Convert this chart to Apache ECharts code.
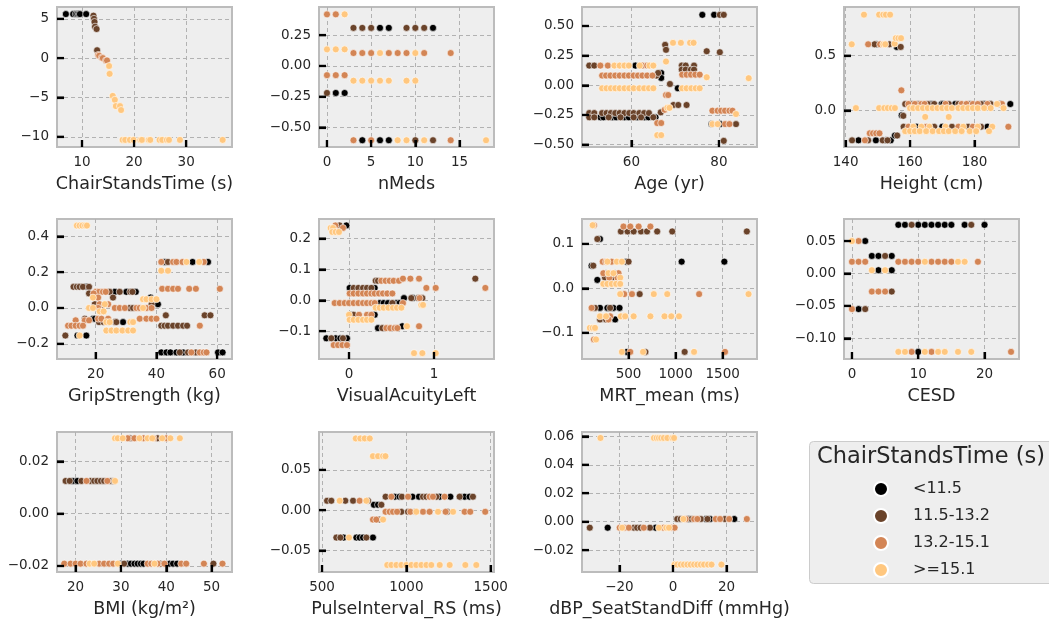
<!DOCTYPE html>
<html>
<head>
<meta charset="utf-8">
<script src="https://cdn.jsdelivr.net/npm/echarts@6/dist/echarts.min.js"></script>
<style>
  html, body { margin: 0; padding: 0; background: #fff; }
  #main { width: 1049px; height: 623px; }
</style>
</head>
<body>
<div id="main"></div>
<script>
// groups of ChairStandsTime, order: black, dark brown, copper, light
const groups = ['<11.5', '11.5-13.2', '13.2-15.1', '>=15.1'];
const colors = ['#000000', '#6a432a', '#d38555', '#ffc77f'];

const chairStands = [
  [[6.9,5.6],[8.3,5.6],[8.8,5.6],[9.1,5.6],[9.4,5.6],[9.6,5.6],[10.8,5.6]],
  [[12.2,5.4],[12.3,5.0],[12.4,4.6],[12.5,4.0],[12.8,3.7],[12.9,1.0]],
  [[13.1,0.4],[13.3,0.3],[13.8,0.05],[14.0,0.0],[14.6,-0.3],[14.8,-0.3]],
  [[15.2,-1.0],[15.3,-2.0],[15.9,-4.8],[16.3,-5.3],[16.5,-6.1],[17.3,-6.1],[17.5,-6.6],[17.8,-10.4],[18.3,-10.4],[19.2,-10.4],[19.9,-10.4],[21.2,-10.4],[21.5,-10.4],[22.8,-10.4],[23.1,-10.4],[24.9,-10.4],[25.4,-10.4],[26.3,-10.4],[26.7,-10.4],[28.8,-10.4],[37.0,-10.4]]
];
const nMeds = [
  [[6,0.31],[7,0.31],[12,0.31],[1,-0.22],[2,-0.22],[4,-0.605],[6,-0.605],[7,-0.605]],
  [[3,0.31],[4,0.31],[5,0.31],[9,0.31],[10,0.31],[11,0.31],[0,-0.22],[10,-0.605],[12,-0.605]],
  [[0,0.42],[1,0.42],[3,0.105],[4,0.105],[5,0.105],[7,0.105],[8,0.105],[9,0.105],[11,0.105],[14,0.105],[0,-0.075],[1,-0.075],[2,-0.075],[3,-0.605],[5,-0.605],[14,-0.605]],
  [[2,0.42],[0,0.135],[1,0.135],[2,0.135],[6,0.105],[10,0.105],[3,-0.12],[4,-0.12],[5,-0.12],[6,-0.12],[7,-0.12],[9,-0.12],[10,-0.12],[8,-0.605],[9,-0.605],[11,-0.605],[18,-0.605]]
];
const age = [
  [[76.2,0.594],[78.9,0.594],[60.9,0.166],[66.8,0.104],[66.8,0.062],[71.9,0.13],[73.9,0.13],[70.6,-0.025],[52.9,-0.27],[53.6,-0.27],[55.6,-0.27],[56.5,-0.27],[58.4,-0.27],[59.4,-0.27],[61.3,-0.27],[63.0,-0.27],[63.9,-0.27],[65.5,-0.27],[78.3,-0.327],[80.3,-0.327]],
  [[80.2,0.594],[81.1,0.594],[77.2,0.287],[80.2,0.279],[67.7,0.341],[67.9,0.299],[50.35,0.166],[51.5,0.166],[71.5,0.166],[72.4,0.166],[74.3,0.166],[71.5,0.132],[72.4,0.132],[73.6,0.132],[74.3,0.132],[65.7,0.082],[66.1,0.104],[68.8,0.011],[50.35,-0.234],[51.5,-0.234],[53.3,-0.234],[54.3,-0.234],[55.3,-0.234],[56.3,-0.234],[57.3,-0.234],[58.4,-0.234],[59.5,-0.234],[60.5,-0.234],[61.8,-0.234],[62.9,-0.234],[64.0,-0.234],[50.35,-0.27],[51.5,-0.27],[54.8,-0.27],[57.5,-0.27],[60.5,-0.27],[62.2,-0.27],[65.0,-0.27],[69.6,-0.166],[70.7,-0.166],[72.6,-0.166],[66.7,-0.228],[83.9,-0.327],[81.1,-0.468]],
  [[52.9,0.166],[54.6,0.166],[62.5,0.166],[63.6,0.166],[53.3,0.082],[54.2,0.082],[55.2,0.082],[56.3,0.082],[57.3,0.082],[58.4,0.082],[59.4,0.082],[60.5,0.082],[61.5,0.082],[62.5,0.082],[63.6,0.082],[64.8,0.082],[71.6,0.09],[72.6,0.09],[73.6,0.09],[74.6,0.09],[75.6,0.09],[67.9,-0.082],[68.4,-0.082],[67.6,-0.206],[65.9,-0.318],[66.8,-0.318],[78.5,-0.214],[79.7,-0.214],[80.5,-0.214],[81.4,-0.214],[82.4,-0.214],[83.1,-0.214],[81.4,-0.327],[82.4,-0.327]],
  [[69.5,0.358],[71.3,0.358],[73.4,0.358],[74.2,0.358],[67.9,0.2],[56.1,0.166],[57.3,0.166],[58.4,0.166],[59.4,0.166],[61.9,0.166],[64.1,0.166],[65.0,0.166],[53.3,-0.025],[54.3,-0.025],[55.3,-0.025],[56.3,-0.025],[57.3,-0.025],[58.4,-0.025],[59.5,-0.025],[60.5,-0.025],[61.8,-0.025],[62.9,-0.025],[64.0,-0.025],[65.0,-0.025],[71.6,-0.025],[72.6,-0.025],[73.7,-0.025],[74.7,-0.025],[75.6,-0.025],[68.2,-0.19],[68.7,-0.19],[65.9,-0.42],[66.8,-0.42],[77.2,0.068],[86.8,0.06],[83.9,-0.242],[78.5,-0.327],[79.7,-0.327]]
];
const height = [
  [[149.6,0.604],[155.9,0.58],[157.4,-0.045],[166.5,0.058],[169.8,0.058],[170.3,0.058],[174,0.058],[183,0.058],[184.9,0.058],[188,0.058],[191.1,0.058],[162,-0.15],[170,-0.15],[184,-0.15],[144,-0.274],[149.4,-0.274],[152.5,-0.274],[154,-0.274],[155.3,-0.23]],
  [[149.0,0.604],[153.6,0.604],[157.1,0.58],[157.9,-0.05],[158.5,0.058],[160.5,0.058],[162.5,0.058],[165.5,0.058],[167.5,0.058],[172,0.058],[175,0.058],[178.5,0.058],[182,0.058],[185,0.058],[158,-0.15],[167.5,-0.15],[173,-0.15],[178,-0.15],[182,-0.15],[142,-0.274],[147,-0.274],[151.5,-0.274],[153,-0.274],[156,-0.23]],
  [[147.0,0.604],[150.7,0.604],[157.3,0.183],[159.5,0.058],[161.5,0.058],[163.5,0.058],[164.5,0.058],[171,0.058],[176,0.058],[177.5,0.058],[179.5,0.058],[181,0.058],[184,0.058],[188.5,0.058],[159.5,-0.15],[165,-0.15],[175,-0.15],[179.5,-0.15],[190.5,-0.15],[147.5,-0.21],[148.5,-0.21],[149.5,-0.21],[150.5,-0.21],[146,-0.274]],
  [[145.7,0.875],[150.4,0.875],[151.7,0.875],[152.5,0.875],[153.8,0.875],[141.9,0.604],[151.7,0.604],[152.3,0.604],[155.2,0.61],[155.6,0.66],[156.4,0.66],[157.2,0.66],[143.2,0.021],[150.4,0.021],[152.0,0.021],[153.1,0.021],[154.3,0.021],[155.3,0.021],[160,0.021],[161,0.021],[162.5,0.021],[164,0.021],[165.5,0.021],[167,0.021],[168.5,0.021],[170,0.021],[171.5,0.021],[173,0.021],[175,0.021],[176.5,0.021],[178,0.021],[179.5,0.021],[181,0.021],[183,0.021],[185,0.021],[187,0.058],[189,0.021],[164.7,-0.06],[172,-0.06],[161,-0.15],[163.5,-0.15],[166,-0.15],[171,-0.15],[176.5,-0.15],[181,-0.15],[185.5,-0.15],[158.5,-0.19],[160,-0.19],[161.5,-0.19],[163,-0.19],[165,-0.19],[167,-0.19],[169,-0.19],[170.5,-0.19],[172,-0.19],[174,-0.19],[176,-0.19],[178.5,-0.19],[180.5,-0.19],[184.5,-0.19]]
];
const grip = [
  [[42.7,0.257],[51.9,0.257],[57.0,0.257],[16.9,0.118],[26.3,0.09],[30.1,0.09],[33.2,0.09],[38.1,0.058],[38.9,0.021],[40.5,0.021],[19.1,-0.06],[19.7,-0.06],[29.0,-0.079],[14.0,-0.154],[16.9,-0.154],[41.6,-0.248],[43.3,-0.248],[44.6,-0.248],[46.6,-0.248],[48.8,-0.248],[60.3,-0.248],[61.8,-0.248]],
  [[43.8,0.257],[12.7,0.118],[13.8,0.118],[14.7,0.118],[15.8,0.118],[17.8,0.118],[17.8,0.081],[24.6,0.09],[27.9,0.09],[31.4,0.09],[32.1,0.09],[25.7,0.058],[19.7,0.021],[38.4,0.021],[21.9,0],[31.2,0],[32.3,0],[43.1,-0.041],[55.9,-0.041],[57.8,-0.041],[16.4,-0.06],[21.1,-0.079],[22.6,-0.079],[24.1,-0.079],[26.3,-0.079],[26.8,-0.079],[41.6,-0.099],[42.7,-0.099],[43.8,-0.099],[45.5,-0.099],[47.1,-0.099],[48.8,-0.099],[50.1,-0.099],[10.0,-0.154],[47.7,-0.248],[50.4,-0.248],[53.0,-0.248]],
  [[41.6,0.257],[45.5,0.257],[46.6,0.257],[48.6,0.257],[55.6,0.257],[41.9,0.107],[43.8,0.107],[45.5,0.107],[47.1,0.107],[50.8,0.107],[53.0,0.107],[60.9,0.107],[20.0,0.09],[21.1,0.09],[22.4,0.09],[23.3,0.09],[19.3,0.081],[20.8,0.058],[21.3,0.021],[24.1,0.021],[20.8,0],[26.3,0],[27.9,0],[29.6,0],[33.4,0],[34.5,0],[36.7,0],[38.4,0],[20.8,-0.06],[21.9,-0.06],[24.1,-0.06],[34.5,-0.06],[36.7,-0.06],[38.4,-0.06],[40.0,-0.06],[13.4,-0.069],[16.4,-0.069],[17.8,-0.069],[10.9,-0.099],[12.0,-0.099],[13.4,-0.099],[14.7,-0.099],[15.8,-0.099],[54.3,-0.099],[51.5,-0.248],[54.3,-0.248],[55.6,-0.248],[56.5,-0.248]],
  [[13.8,0.46],[14.7,0.46],[15.6,0.46],[16.5,0.46],[17.1,0.46],[49.9,0.257],[54.1,0.257],[41.6,0.208],[43.8,0.208],[19.1,0.058],[35.6,0.049],[36.7,0.049],[38.4,0.049],[40.0,0.049],[23.0,0.021],[17.8,0],[19.1,0],[35.6,0],[21.3,-0.019],[22.6,-0.019],[23.5,-0.079],[24.6,-0.079],[31.4,-0.079],[32.3,-0.079],[23.5,-0.126],[25.2,-0.126],[26.8,-0.126],[28.8,-0.126],[30.7,-0.126],[32.3,-0.126],[14.7,-0.154]]
];
const visual = [
  [[-0.031,0.242],[0.008,0.04],[0.302,0.04],[0.647,0.007],[0.753,0.007],[0.361,-0.009],[0.408,-0.009],[0.459,-0.009],[0.557,-0.009],[0.596,-0.009],[0.016,-0.047],[0.302,-0.047],[0.341,-0.09],[0.627,-0.084],[-0.267,-0.123],[-0.157,-0.123],[-0.102,-0.123],[-0.024,-0.123]],
  [[-0.129,0.242],[-0.11,0.242],[0.314,0.063],[0.341,0.063],[0.055,0.04],[0.11,0.04],[0.165,0.04],[0.212,0.04],[0.263,0.04],[1.486,0.07],[0.733,0.007],[0.812,0.007],[0.863,0.007],[0.51,-0.009],[0.055,-0.047],[0.392,-0.09],[-0.208,-0.123],[-0.071,-0.123]],
  [[-0.161,0.242],[-0.071,0.234],[0.38,0.063],[0.431,0.063],[0.478,0.063],[0.525,0.063],[0.588,0.063],[0.635,0.07],[0.722,0.07],[0.824,0.07],[0.91,0.04],[1.02,0.04],[1.604,0.04],[0.008,0.022],[0.055,0.022],[0.11,0.022],[0.165,0.022],[0.212,0.022],[0.263,0.022],[0.302,0.022],[0.353,0.022],[0.4,0.022],[0.451,0.022],[0.51,0.022],[0.831,0.007],[-0.169,-0.009],[-0.11,-0.009],[-0.051,-0.009],[0,-0.009],[0.055,-0.009],[0.11,-0.009],[0.165,-0.009],[0.212,-0.009],[0.263,-0.009],[0.302,-0.009],[0.635,-0.009],[0.118,-0.047],[0.212,-0.047],[0.263,-0.047],[0.439,-0.09],[0.486,-0.09],[0.537,-0.09],[0.569,-0.09],[0.824,-0.084],[-0.18,-0.145],[-0.129,-0.145],[-0.078,-0.145],[-0.024,-0.145]],
  [[-0.216,0.234],[-0.188,0.234],[-0.196,0.221],[-0.157,0.221],[-0.118,0.221],[0.314,-0.024],[0.361,-0.024],[0.408,-0.024],[0.463,-0.024],[0.518,-0.024],[0.565,-0.024],[0.616,-0.024],[0.851,-0.015],[0.871,-0.015],[0,-0.047],[0.008,-0.063],[0.055,-0.063],[0.11,-0.063],[0.165,-0.063],[0.212,-0.063],[0.263,-0.063],[0.682,-0.084],[0.765,-0.171],[0.863,-0.171],[1.02,-0.171]]
];
const mrt = [
  [[196,0.111],[475,0.06],[1064,0.06],[1518,0.06],[107,0.051],[168,0.019],[196,-0.044],[275,-0.044],[339,-0.044],[404,-0.044],[357,-0.07],[482,-0.143]],
  [[418,0.128],[489,0.128],[554,0.128],[632,0.128],[696,0.128],[804,0.128],[964,0.128],[1757,0.128],[168,0.111],[500,0.06],[125,0.051],[261,0.034],[357,0.034],[250,0.024],[321,0.024],[618,-0.013],[143,-0.044],[304,-0.044],[196,-0.07],[261,-0.07],[679,-0.143],[1096,-0.143]],
  [[132,0.142],[446,0.139],[518,0.139],[607,0.139],[732,0.139],[225,0.06],[261,0.06],[321,0.06],[232,0.034],[304,0.034],[393,0.034],[296,0.024],[382,0.024],[454,-0.013],[536,-0.013],[1250,-0.013],[107,-0.044],[304,-0.063],[446,-0.063],[286,-0.07],[132,-0.115],[518,-0.143],[1525,-0.143]],
  [[118,0.142],[275,0.06],[375,0.06],[429,0.06],[286,0.034],[339,0.034],[411,0.024],[232,0.01],[275,0.01],[321,0.01],[368,0.01],[411,0.01],[411,-0.013],[768,-0.013],[911,-0.013],[1775,-0.013],[196,-0.063],[261,-0.063],[418,-0.063],[464,-0.063],[554,-0.063],[732,-0.063],[882,-0.063],[954,-0.063],[1036,-0.063],[89,-0.089],[118,-0.089],[143,-0.089],[154,-0.115],[429,-0.143],[654,-0.143],[1196,-0.143]]
];
const cesd = [
  [[7,0.075],[8,0.075],[10,0.075],[11,0.075],[12,0.075],[13,0.075],[14,0.075],[15,0.075],[17,0.075],[20,0.075],[2,0.05],[3,0.027],[4,0.027],[6,0.027],[4,0.005],[6,0.005],[1,-0.055],[10,-0.121]],
  [[9,0.075],[18,0.075],[5,0.027],[6,-0.028],[2,-0.055]],
  [[1,0.05],[0,0.018],[1,0.018],[2,0.018],[7,0.018],[8,0.018],[9,0.018],[10,0.018],[12,0.018],[13,0.018],[14,0.018],[15,0.018],[19,0.018],[3,-0.028],[4,-0.028],[5,-0.028],[0,-0.055],[9,-0.121],[12,-0.121],[24,-0.121]],
  [[0,0.05],[11,0.018],[16,0.018],[17,0.018],[3,0.005],[5,0.005],[7,-0.121],[8,-0.121],[11,-0.121],[13,-0.121],[14,-0.121],[16,-0.121],[18,-0.121]]
];
const bmi = [
  [[19.4,0.0125],[20.4,0.0125],[29.8,-0.0191],[31.5,-0.0191],[32.2,-0.0191],[33.0,-0.0191],[33.7,-0.0191],[34.4,-0.0191],[35.0,-0.0191],[40.7,-0.0191],[41.5,-0.0191],[42.4,-0.0191]],
  [[17.8,0.0125],[18.7,0.0125],[21.3,0.0125],[23.3,0.0125],[24.1,0.0125],[24.8,0.0125],[25.6,0.0125],[26.3,0.0125],[27.8,0.0125],[28.5,0.0125],[32.0,0.0288],[38.1,0.0288],[30.7,-0.0191],[38.7,-0.0191],[50.4,-0.0191]],
  [[22.4,0.0125],[27.0,0.0125],[31.5,0.0288],[33.0,0.0288],[35.0,0.0288],[37.2,0.0288],[40.0,0.0288],[17.5,-0.0191],[18.9,-0.0191],[20.0,-0.0191],[21.1,-0.0191],[22.4,-0.0191],[25.2,-0.0191],[26.3,-0.0191],[27.4,-0.0191],[28.3,-0.0191],[35.9,-0.0191],[36.7,-0.0191],[38.1,-0.0191],[39.6,-0.0191],[43.3,-0.0191],[44.4,-0.0191],[48.3,-0.0191],[52.4,-0.0191]],
  [[28.7,0.0125],[28.7,0.0288],[29.3,0.0288],[30.4,0.0288],[34.1,0.0288],[35.9,0.0288],[36.9,0.0288],[39.1,0.0288],[40.9,0.0288],[43.0,0.0288],[23.1,-0.0191],[24.1,-0.0191],[29.3,-0.0191],[37.4,-0.0191]]
];
const pulse = [
  [[808,0.0067],[832,0.0067],[931,0.0167],[960,0.0167],[1036,0.0167],[1075,0.0167],[1198,0.0167],[1261,0.0167],[1322,0.0167],[1346,0.0167],[1375,0.0167],[628,-0.034],[704,-0.034],[723,-0.034],[743,-0.034],[802,-0.034]],
  [[530,0.0117],[555,0.0117],[638,0.0117],[684,0.0117],[773,0.0117],[852,0.0067],[877,0.0167],[974,0.0167],[1099,0.0167],[1119,0.0167],[1178,0.0167],[1316,0.0167],[1395,0.0167],[970,-0.002],[1010,-0.002],[1055,-0.002],[1243,-0.002],[838,-0.0117],[585,-0.034],[609,-0.034],[763,-0.034]],
  [[723,0.0117],[911,0.0167],[1010,0.0167],[1138,0.0167],[1158,0.0167],[1227,0.0167],[877,-0.002],[901,-0.002],[921,-0.002],[945,-0.002],[1024,-0.002],[1099,-0.002],[1138,-0.002],[1233,-0.002],[1346,-0.002],[1379,-0.002],[1468,-0.002],[802,-0.0117],[822,-0.0117]],
  [[700,0.089],[727,0.089],[753,0.089],[783,0.089],[802,0.067],[832,0.067],[862,0.067],[876,0.067],[605,0.0117],[763,0.0117],[1059,-0.002],[1188,-0.002],[1277,-0.002],[862,-0.0117],[660,-0.034],[887,-0.068],[911,-0.068],[941,-0.068],[970,-0.068],[1000,-0.068],[1030,-0.068],[1059,-0.068],[1089,-0.068],[1119,-0.068],[1148,-0.068],[1198,-0.068],[1257,-0.068],[1350,-0.068],[1415,-0.068]]
];
const dbp = [
  [[-24.4,-0.0042],[-6.5,-0.0042],[5.75,0.0019],[12.25,0.0019],[13.9,0.0019],[22.9,0.0019]],
  [[-31.1,-0.0042],[-14.6,-0.0042],[-13.4,-0.0042],[-12.1,-0.0042],[-8.6,-0.0042],[1.6,0.0019],[2.9,0.0019],[6.9,0.0019],[10.4,0.0019],[12.9,0.0019],[19.4,0.0019]],
  [[-19.9,-0.0042],[-18.1,-0.0042],[-16.5,-0.0042],[-10.9,-0.0042],[-3.6,-0.0042],[-0.5,-0.0042],[0.6,-0.0042],[4.75,0.0019],[7.9,0.0019],[9.1,0.0019],[16,0.0019],[17.6,0.0019],[21,0.0019],[27.6,0.0019]],
  [[-27.1,0.0588],[-7.1,0.0588],[-6.1,0.0588],[-5.25,0.0588],[-4.4,0.0588],[-3.4,0.0588],[-2.1,0.0588],[-0.25,0.0588],[0.4,0.0588],[-19,-0.0042],[-5.25,-0.0042],[-2.5,-0.0042],[-1.5,-0.0042],[3.9,0.0019],[0.6,-0.0301],[1.6,-0.0301],[2.9,-0.0301],[4.1,-0.0301],[5.4,-0.0301],[6.6,-0.0301],[7.9,-0.0301],[9.1,-0.0301],[10.4,-0.0301],[11.6,-0.0301],[13.1,-0.0301],[14.4,-0.0301],[18.1,-0.0301]]
];

// tick labels
const chairX = ['10','20','30'], chairY = ['\u221210','\u22125','0','5'];
const nMedsX = ['0','5','10','15'], nMedsY = ['\u22120.50','\u22120.25','0.00','0.25'];
const ageX = ['60','80'], ageY = ['\u22120.50','\u22120.25','0.00','0.25','0.50'];
const heightX = ['140','160','180'], heightY = ['0.0','0.5'];
const gripX = ['20','40','60'], gripY = ['\u22120.2','0.0','0.2','0.4'];
const visualX = ['0','1'], visualY = ['\u22120.1','0.0','0.1','0.2'];
const mrtX = ['500','1000','1500'], mrtY = ['\u22120.1','0.0','0.1'];
const cesdX = ['0','10','20'], cesdY = ['\u22120.10','\u22120.05','0.00','0.05'];
const bmiX = ['20','30','40','50'], bmiY = ['\u22120.02','0.00','0.02'];
const pulseX = ['500','1000','1500'], pulseY = ['\u22120.05','0.00','0.05'];
const dbpX = ['\u221220','0','20'], dbpY = ['\u22120.02','0.00','0.02','0.04','0.06'];

const panels = [
  {name: 'ChairStandsTime (s)', pts: chairStands, xr: [5.2, 38.8], yr: [-11.3, 6.5], xt: chairX, yt: chairY},
  {name: 'nMeds', pts: nMeds, xr: [-0.9, 18.9], yr: [-0.66, 0.48], xt: nMedsX, yt: nMedsY},
  {name: 'Age (yr)', pts: age, xr: [48.7, 88.7], yr: [-0.52, 0.66], xt: ageX, yt: ageY},
  {name: 'Height (cm)', pts: height, xr: [139.5, 193.8], yr: [-0.335, 0.945], xt: heightX, yt: heightY},
  {name: 'GripStrength (kg)', pts: grip, xr: [7.25, 64.9], yr: [-0.285, 0.497], xt: gripX, yt: gripY},
  {name: 'VisualAcuityLeft', pts: visual, xr: [-0.353, 1.706], yr: [-0.19, 0.263], xt: visualX, yt: visualY},
  {name: 'MRT_mean (ms)', pts: mrt, xr: [5, 1865], yr: [-0.159, 0.156], xt: mrtX, yt: mrtY},
  {name: 'CESD', pts: cesd, xr: [-1.2, 25.2], yr: [-0.132, 0.084], xt: cesdX, yt: cesdY},
  {name: 'BMI (kg/m\u00b2)', pts: bmi, xr: [15.9, 54.5], yr: [-0.0223, 0.0312], xt: bmiX, yt: bmiY},
  {name: 'PulseInterval_RS (ms)', pts: pulse, xr: [482, 1520], yr: [-0.0767, 0.097], xt: pulseX, yt: pulseY},
  {name: 'dBP_SeatStandDiff (mmHg)', pts: dbp, xr: [-34, 31.4], yr: [-0.0353, 0.063], xt: dbpX, yt: dbpY}
];

const colLeft = [57, 319, 582, 844];
const rowTop = [7, 219, 432];
const font = 'DejaVu Sans';

function num(s) {
  return parseFloat(s.replace('\u2212', '-'));
}

// background axis: only the dashed grid lines
function gridAxis(i, range, ticks, pos) {
  let vals = ticks.map(num);
  return {
    type: 'value', gridIndex: i, position: pos, min: range[0], max: range[1], z: 0,
    axisLine: {show: false, onZero: false},
    axisTick: {show: false, customValues: vals},
    axisLabel: {show: false, customValues: vals},
    splitLine: {show: true, lineStyle: {type: [4, 3], color: '#b2b2b2', width: 1}}
  };
}

// front axis: frame edge, labels, name
function tickAxis(i, range, ticks, pos, name) {
  let vals = ticks.map(num);
  return {
    type: 'value', gridIndex: i, position: pos, min: range[0], max: range[1], z: 3,
    name: name, nameLocation: 'middle', nameGap: 28,
    nameTextStyle: {fontSize: 17.5, color: '#262626', fontFamily: font},
    axisLine: {show: true, onZero: false, lineStyle: {color: '#bcbcbc', width: 2}},
    axisTick: {show: true, inside: true, length: 7, customValues: vals, lineStyle: {color: '#000', width: 2.2}},
    axisLabel: {
      customValues: vals, fontSize: 13.5, color: '#262626', fontFamily: font, margin: 8,
      formatter: function (v) {
        let best = 0;
        for (let k = 1; k < vals.length; k++) {
          if (Math.abs(vals[k] - v) < Math.abs(vals[best] - v)) best = k;
        }
        return ticks[best];
      }
    },
    splitLine: {show: false}
  };
}

// short black inward tick marks along the bottom and left edges
function tickMarks(i, data, size, offset) {
  return {
    type: 'scatter', name: 'ticks' + i, xAxisIndex: 2 * i + 1, yAxisIndex: 2 * i + 1,
    data: data, symbol: 'rect', symbolSize: size, symbolOffset: offset,
    itemStyle: {color: '#000000'}, silent: true, clip: false, z: 4,
    emphasis: {disabled: true}
  };
}

let grids = [], xAxes = [], yAxes = [], series = [];
panels.forEach(function (p, i) {
  grids.push({
    left: colLeft[i % 4], top: rowTop[Math.floor(i / 4)], width: 175, height: 140,
    show: true, backgroundColor: '#eeeeee', borderColor: '#bcbcbc', borderWidth: 2
  });
  xAxes.push(gridAxis(i, p.xr, p.xt, 'top'), tickAxis(i, p.xr, p.xt, 'bottom', p.name));
  yAxes.push(gridAxis(i, p.yr, p.yt, 'right'), tickAxis(i, p.yr, p.yt, 'left', ''));
  p.pts.forEach(function (d, g) {
    series.push({
      type: 'scatter', name: groups[g], xAxisIndex: 2 * i + 1, yAxisIndex: 2 * i + 1,
      data: d, symbolSize: 7,
      itemStyle: {color: colors[g], borderColor: '#ffffff', borderWidth: 0.6, opacity: 1},
      emphasis: {disabled: true}
    });
  });
  series.push(tickMarks(i, p.xt.map(t => [num(t), p.yr[0]]), [2.2, 7], [0, -3.5]));
  series.push(tickMarks(i, p.yt.map(t => [p.xr[0], num(t)]), [7, 2.2], [3.5, 0]));
});

let myChart = echarts.init(document.getElementById('main'));
myChart.setOption({
  animation: false,
  backgroundColor: '#ffffff',
  grid: grids,
  xAxis: xAxes,
  yAxis: yAxes,
  series: series,
  legend: {
    data: groups, orient: 'vertical', left: 868, top: 476,
    icon: 'circle', itemWidth: 14, itemHeight: 14, itemGap: 11,
    selectedMode: false,
    textStyle: {fontSize: 16, color: '#262626', fontFamily: font, padding: [0, 0, 0, 20]}
  },
  graphic: [
    {type: 'rect', left: 809, top: 441, z: 0,
      shape: {width: 250, height: 142, r: 4},
      style: {fill: '#eeeeee', stroke: '#cccccc', lineWidth: 1}},
    {type: 'text', left: 817, top: 446, z: 1,
      style: {text: 'ChairStandsTime (s)', fontSize: 22.5, fill: '#262626', fontFamily: font}}
  ]
});
</script>
</body>
</html>
